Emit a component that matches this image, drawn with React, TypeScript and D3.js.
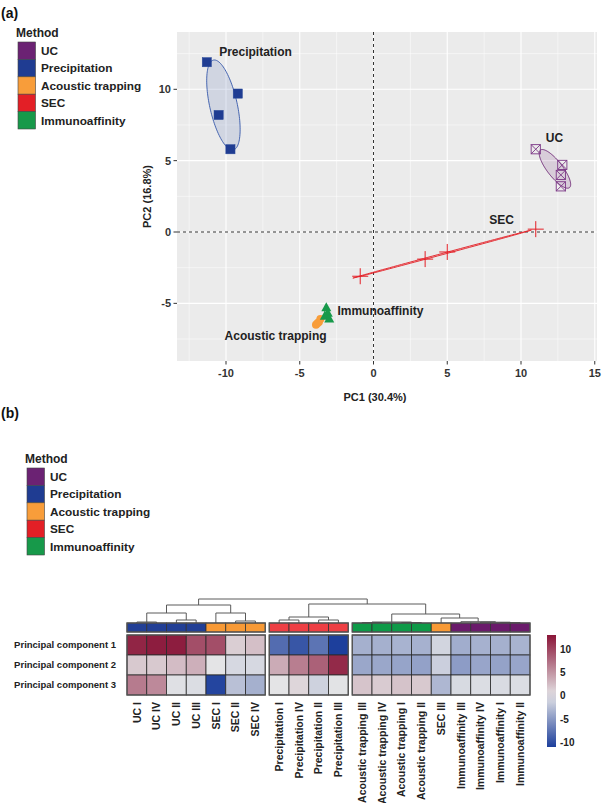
import React from 'react';
import * as d3 from 'd3';

// ---------- shared ----------
const methods = ['UC', 'Precipitation', 'Acoustic trapping', 'SEC', 'Immunoaffinity'];
const methodColors = ['#6B2273', '#1F3C92', '#F89D3A', '#E31F26', '#17994A'];

// ---------- PCA scores (panel a) ----------
const ucPC1 = [11.0, 12.8, 12.7, 12.7];
const ucPC2 = [5.8, 4.7, 4.0, 3.2];
const precPC1 = [-11.3, -9.2, -10.5, -9.7];
const precPC2 = [11.9, 9.7, 8.2, 5.8];
const secPC1 = [-0.9, 3.5, 5.0, 11.0];
const secPC2 = [-3.1, -1.9, -1.4, 0.2];
const acPC1 = [-3.9, -3.7, -3.6, -3.8];
const acPC2 = [-6.5, -6.3, -6.1, -6.4];
const imPC1 = [-3.2, -3.1, -3.3, -3.0];
const imPC2 = [-5.3, -5.7, -5.9, -6.1];
// group label anchors (data units)
const groupLabelX = [12.27, -8.0, -6.64, 8.68, 0.47];
const groupLabelY = [6.57, 12.6, -7.27, 0.84, -5.52];

const xMajor = [-10, -5, 0, 5, 10, 15];
const xMinor = [-12.5, -7.5, -2.5, 2.5, 7.5, 12.5];
const yMajor = [-5, 0, 5, 10];
const yMinor = [-7.5, -2.5, 2.5, 7.5, 12.5];

// ---------- heatmap (panel b) ----------
const colLabels = ['UC I', 'UC IV', 'UC II', 'UC III', 'SEC I', 'SEC II', 'SEC IV',
  'Precipitation I', 'Precipitation IV', 'Precipitation II', 'Precipitation III',
  'Acoustic trapping III', 'Acoustic trapping IV', 'Acoustic trapping I', 'Acoustic trapping II',
  'SEC III', 'Immunoaffinity III', 'Immunoaffinity IV', 'Immunoaffinity I', 'Immunoaffinity II'];
const colSplit = [0, 0, 0, 0, 0, 0, 0, 1, 1, 1, 1, 2, 2, 2, 2, 2, 2, 2, 2, 2];
const colAnnot = [1, 1, 1, 1, 2, 2, 2, 3, 3, 3, 3, 4, 4, 4, 4, 2, 0, 0, 0, 0];
const annotColors = ['#6A1B6B', '#223F95', '#F89A36', '#EE3F44', '#0E9A48'];
const rowLabels = ['Principal component 1', 'Principal component 2', 'Principal component 3'];
const pc1 = [12, 12.5, 12.5, 9.4, 9.4, 1.4, 2.3, -8, -9.5, -7.5, -11, -3.5, -3.5, -3.3, -3.4, -1, -3.7, -3.4, -3.5, -3.3];
const pc2 = [1.7, 1.7, 2.5, 3.3, 0, -0.8, -0.8, 3.6, 6.4, 8.2, 11.7, -4.1, -4.1, -4.3, -4.5, -1.4, -4.8, -4.2, -4.4, -4.2];
const pc3 = [6.6, 5.7, -0.3, -0.5, -10.6, -2.4, -3.5, 0, 0.9, -1.2, -0.1, 2, 1.6, 2.1, 1.7, -3, -0.7, -0.5, -0.6, -0.5];
const colorTicks = [10, 5, 0, -5, -10];
// hclust-style merges: negative = leaf (1-based column), positive = earlier merge
const merges: [number, number, number][] = [
  [-1, -2, 1], [-3, -4, 3], [-6, -7, 2], [1, 2, 10], [-5, 3, 10], [4, 5, 18],
  [-8, -9, 3], [-10, -11, 3], [7, 8, 6],
  [-12, -13, 0.4], [-14, -15, 0.4], [10, 11, 1],
  [-19, -20, 0.4], [-18, 13, 0.8], [-17, 14, 1.3], [-16, 15, 5], [12, 16, 9],
  [9, 17, 19], [6, 18, 24],
];

const FONT = 'Liberation Sans, Arial, Helvetica, sans-serif';

function ellipsePath(xs: number[], ys: number[], k: number, sx: any, sy: any) {
  const n = xs.length;
  const mx = d3.mean(xs)!;
  const my = d3.mean(ys)!;
  let a = 0, b = 0, d = 0;
  for (let i = 0; i < n; i++) {
    a += (xs[i] - mx) ** 2;
    d += (ys[i] - my) ** 2;
    b += (xs[i] - mx) * (ys[i] - my);
  }
  a /= n - 1; b /= n - 1; d /= n - 1;
  const tr = a + d, det = a * d - b * b;
  const disc = Math.sqrt(Math.max(0, tr * tr / 4 - det));
  const l1 = tr / 2 + disc, l2 = Math.max(tr / 2 - disc, 1e-4);
  const th = Math.abs(b) < 1e-12 ? (a >= d ? 0 : Math.PI / 2) : Math.atan2(l1 - a, b);
  const r1 = k * Math.sqrt(l1), r2 = k * Math.sqrt(l2);
  const pts: [number, number][] = d3.range(0, 120).map(i => {
    const t = (i / 120) * 2 * Math.PI;
    const ex = r1 * Math.cos(t), ey = r2 * Math.sin(t);
    return [sx(mx + ex * Math.cos(th) - ey * Math.sin(th)), sy(my + ex * Math.sin(th) + ey * Math.cos(th))];
  });
  return d3.line().curve(d3.curveLinearClosed)(pts) as string;
}

function Legend({ x, y }: { x: number; y: number }) {
  const bh = 17.4;
  return (
    <g transform={`translate(${x},${y})`}>
      <text x={-2} y={-5} fontSize={12} fontWeight="bold" fill="#222">Method</text>
      {methods.map((m, i) => (
        <g key={m}>
          <rect x={0} y={i * bh} width={17.5} height={bh} fill={methodColors[i]} stroke="#444" strokeWidth={0.6} />
          <text x={23} y={i * bh + bh / 2 + 4.2} fontSize={11.8} fontWeight="bold" fill="#222">{m}</text>
        </g>
      ))}
    </g>
  );
}

function PCAPanel() {
  const L = 177, R = 597, T = 32, B = 361;
  const sx = d3.scaleLinear().domain([-10, 10]).range([226, 521]);
  const sy = d3.scaleLinear().domain([0, 10]).range([232, 89.3]);
  const k = 1.23;
  const groups = [
    { xs: ucPC1, ys: ucPC2, c: methodColors[0] },
    { xs: precPC1, ys: precPC2, c: '#3558AA' },
    { xs: acPC1, ys: acPC2, c: methodColors[2] },
    { xs: secPC1, ys: secPC2, c: methodColors[3] },
    { xs: imPC1, ys: imPC2, c: methodColors[4] },
  ];
  const s = 4.6;
  return (
    <g fontFamily={FONT}>
      <defs>
        <clipPath id="pcaclip"><rect x={L} y={T} width={R - L} height={B - T} /></clipPath>
      </defs>
      <rect x={L} y={T} width={R - L} height={B - T} fill="#EBEBEB" />
      {xMinor.map(v => <line key={'xm' + v} x1={sx(v)} x2={sx(v)} y1={T} y2={B} stroke="#fff" strokeWidth={0.5} />)}
      {yMinor.map(v => <line key={'ym' + v} x1={L} x2={R} y1={sy(v)} y2={sy(v)} stroke="#fff" strokeWidth={0.5} />)}
      {xMajor.map(v => <line key={'xM' + v} x1={sx(v)} x2={sx(v)} y1={T} y2={B} stroke="#fff" strokeWidth={1.1} />)}
      {yMajor.map(v => <line key={'yM' + v} x1={L} x2={R} y1={sy(v)} y2={sy(v)} stroke="#fff" strokeWidth={1.1} />)}
      <line x1={sx(0)} x2={sx(0)} y1={T} y2={B} stroke="#333" strokeWidth={1} strokeDasharray="3,3" />
      <line x1={L} x2={R} y1={sy(0)} y2={sy(0)} stroke="#333" strokeWidth={1} strokeDasharray="3,3" />
      <g clipPath="url(#pcaclip)">
        {groups.map((g, i) => (
          <path key={'el' + i} d={ellipsePath(g.xs, g.ys, k, sx, sy)} fill={g.c} fillOpacity={0.15} stroke={g.c} strokeWidth={0.9} />
        ))}
        {/* SEC: plus */}
        {secPC1.map((v, i) => (
          <path key={'sec' + i} d={`M${sx(v) - 8},${sy(secPC2[i])}H${sx(v) + 8}M${sx(v)},${sy(secPC2[i]) - 8}V${sy(secPC2[i]) + 8}`} stroke={methodColors[3]} strokeWidth={1} />
        ))}
        {/* Acoustic: circles */}
        {acPC1.map((v, i) => (
          <circle key={'ac' + i} cx={sx(v)} cy={sy(acPC2[i])} r={4} fill={methodColors[2]} />
        ))}
        {/* Immuno: triangles */}
        {imPC1.map((v, i) => {
          const cx = sx(v), cy = sy(imPC2[i]);
          return <path key={'im' + i} d={`M${cx},${cy - 5.5}L${cx + 5},${cy + 3.5}L${cx - 5},${cy + 3.5}Z`} fill={methodColors[4]} />;
        })}
        {/* Precipitation: filled squares */}
        {precPC1.map((v, i) => (
          <rect key={'pr' + i} x={sx(v) - s} y={sy(precPC2[i]) - s} width={2 * s} height={2 * s} fill={methodColors[1]} stroke="#2A4A9A" strokeWidth={0.5} />
        ))}
        {/* UC: square cross */}
        {ucPC1.map((v, i) => {
          const cx = sx(v), cy = sy(ucPC2[i]);
          return (
            <g key={'uc' + i} stroke="#7A3585" strokeWidth={0.9} fill="none">
              <rect x={cx - s} y={cy - s} width={2 * s} height={2 * s} />
              <path d={`M${cx - s},${cy - s}L${cx + s},${cy + s}M${cx + s},${cy - s}L${cx - s},${cy + s}`} />
            </g>
          );
        })}
        {methods.map((m, i) => (
          <text key={'gl' + m} x={sx(groupLabelX[i])} y={sy(groupLabelY[i]) + 4.2} textAnchor="middle" fontSize={12} fontWeight="bold" fill="#222">{m}</text>
        ))}
      </g>
      {xMajor.map(v => (
        <g key={'xt' + v}>
          <line x1={sx(v)} x2={sx(v)} y1={B} y2={B + 3.5} stroke="#333" strokeWidth={1} />
          <text x={sx(v)} y={B + 16} textAnchor="middle" fontSize={11} fontWeight="bold" fill="#333">{v}</text>
        </g>
      ))}
      {yMajor.map(v => (
        <g key={'yt' + v}>
          <line x1={L - 3.5} x2={L} y1={sy(v)} y2={sy(v)} stroke="#333" strokeWidth={1} />
          <text x={L - 6} y={sy(v) + 4} textAnchor="end" fontSize={11} fontWeight="bold" fill="#333">{v}</text>
        </g>
      ))}
      <text x={(L + R) / 2 - 12} y={401} textAnchor="middle" fontSize={11} fontWeight="bold" fill="#222">PC1 (30.4%)</text>
      <text transform={`translate(151,${(T + B) / 2}) rotate(-90)`} textAnchor="middle" fontSize={11} fontWeight="bold" fill="#222">PC2 (16.8%)</text>
    </g>
  );
}

function HeatmapPanel() {
  const cw = 19.75, gap = 4, x0 = 127;
  const colX = colLabels.map((_, i) => x0 + i * cw + colSplit[i] * gap);
  const annY = 623, annH = 9;
  const rowY0 = 635, rh = 20;
  const values = [pc1, pc2, pc3];
  const color = d3.scaleLinear<string>().domain([-11, 0, 13]).range(['#1D3F9C', '#E4E4E6', '#8A1538']);
  const hScale = d3.scaleLinear().domain([0, 24]).range([annY, 599]);

  // dendrogram
  const nodeX: number[] = [];
  const nodeH: number[] = [];
  const segs: string[] = [];
  const posOf = (id: number) => id < 0
    ? { x: colX[-id - 1] + cw / 2, y: annY }
    : { x: nodeX[id - 1], y: hScale(nodeH[id - 1]) };
  merges.forEach(([a, b, h], i) => {
    const pa = posOf(a), pb = posOf(b);
    const y = hScale(h);
    nodeX[i] = (pa.x + pb.x) / 2;
    nodeH[i] = h;
    segs.push(`M${pa.x},${pa.y}V${y}H${pb.x}V${pb.y}`);
  });

  const groups = d3.groups(colLabels.map((_, i) => i), i => colSplit[i]);
  const cbX = 547, cbW = 9;
  const cbScale = d3.scaleLinear().domain([-11, 13]).range([747, 635]);
  const stops = d3.range(0, 11).map(i => -11 + (24 * i) / 10);

  return (
    <g fontFamily={FONT}>
      <defs>
        <linearGradient id="cbgrad" x1="0" y1="1" x2="0" y2="0">
          {stops.map((v, i) => <stop key={i} offset={`${(i / 10) * 100}%`} stopColor={color(v)} />)}
        </linearGradient>
      </defs>
      {segs.map((d, i) => <path key={'dg' + i} d={d} fill="none" stroke="#5A5A5A" strokeWidth={1} />)}
      {colLabels.map((lab, i) => (
        <rect key={'an' + i} x={colX[i]} y={annY} width={cw} height={annH} fill={annotColors[colAnnot[i]]} stroke="#333" strokeWidth={0.8} />
      ))}
      {values.map((row, r) => row.map((v, i) => (
        <rect key={`c${r}-${i}`} x={colX[i]} y={rowY0 + r * rh} width={cw} height={rh} fill={color(v)} stroke="#2A2A2A" strokeWidth={0.8} />
      )))}
      {groups.map(([g, idx]) => {
        const xa = colX[idx[0]], xb = colX[idx[idx.length - 1]] + cw;
        return (
          <g key={'gb' + g} fill="none" stroke="#555" strokeWidth={1.3}>
            <rect x={xa} y={annY} width={xb - xa} height={annH} />
            <rect x={xa} y={rowY0} width={xb - xa} height={rh * 3} />
          </g>
        );
      })}
      {rowLabels.map((l, r) => (
        <text key={l} x={116} y={rowY0 + r * rh + rh / 2 + 3.4} textAnchor="end" fontSize={9.5} fontWeight="bold" fill="#222">{l}</text>
      ))}
      {colLabels.map((l, i) => (
        <text key={'cl' + i} transform={`translate(${colX[i] + cw / 2 + 3.8},702) rotate(-90)`} textAnchor="end" fontSize={10.5} fontWeight="bold" fill="#222">{l}</text>
      ))}
      <rect x={cbX} y={635} width={cbW} height={112} fill="url(#cbgrad)" />
      {colorTicks.map(t => (
        <text key={'ct' + t} x={cbX + 13} y={cbScale(t) + 3.8} fontSize={10} fontWeight="bold" fill="#222">{t}</text>
      ))}
    </g>
  );
}

export default function App() {
  return (
    <svg width={602} height={803} style={{ position: 'absolute', left: 0, top: 0, background: '#fff' }} fontFamily={FONT}>
      <rect width={602} height={803} fill="#fff" />
      <text x={1} y={18} fontSize={14} fontWeight="bold" fill="#111">(a)</text>
      <Legend x={18} y={42} />
      <PCAPanel />
      <text x={1} y={418} fontSize={14} fontWeight="bold" fill="#111">(b)</text>
      <Legend x={27} y={468} />
      <HeatmapPanel />
    </svg>
  );
}
